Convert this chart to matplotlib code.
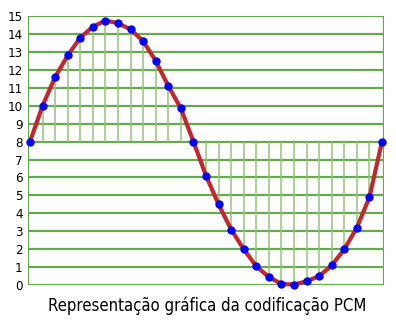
import matplotlib
matplotlib.use('Agg')
import matplotlib.pyplot as plt
import numpy as np

# amostras do sinal (nível quantizado 0..15)
amostras = [8, 10, 11.6, 12.8, 13.8, 14.4, 14.75, 14.6, 14.25, 13.6, 12.5, 11.1, 9.85, 8,
            6.1, 4.5, 3.1, 2.0, 1.05, 0.45, 0.07, 0.03, 0.22, 0.5, 1.1, 2.0, 3.2, 4.9, 8]
niveis = list(range(16))
titulo = 'Representação gráfica da codificação PCM'

fam = ['DejaVu Sans']
t = np.arange(len(amostras))

fig = plt.figure(figsize=(3.96, 3.27), dpi=100)
ax = fig.add_axes([0.0707, 0.128, 0.899, 0.823])

verde = '#6aa84f'
verde_claro = '#93c47d'

# linhas horizontais
for n in niveis:
    ax.axhline(n, color=verde, lw=1.6, zorder=1)

# linhas verticais do nivel 8 ate a amostra
ax.vlines(t, 8, amostras, color=verde_claro, lw=1.1, zorder=1)

# bordas
ax.axvline(t[0] - 0.16, color=verde, lw=1.6, zorder=1)
ax.axvline(t[-1] + 0.16, color=verde, lw=1.6, zorder=1)

ax.plot(t, amostras, color='#c1272d', lw=3, solid_capstyle='round', zorder=2, clip_on=False)
ax.plot(t, amostras, 'o', color='#0000ff', ms=5, zorder=3, clip_on=False)

ax.set_xlim(t[0] - 0.16, t[-1] + 0.16)
ax.set_ylim(0, 15)
ax.set_yticks(niveis)
ax.set_yticklabels([str(n) for n in niveis], family=fam, fontsize=9.5, fontstretch='condensed')
ax.set_xticks([])
ax.tick_params(axis='y', length=0, pad=4)
for s in ax.spines.values():
    s.set_visible(False)

fig.text(0.524, 0.065, titulo, ha='center', va='center', family=fam, fontsize=12,
         fontstretch='condensed')

fig.savefig('out.png', dpi=100)
